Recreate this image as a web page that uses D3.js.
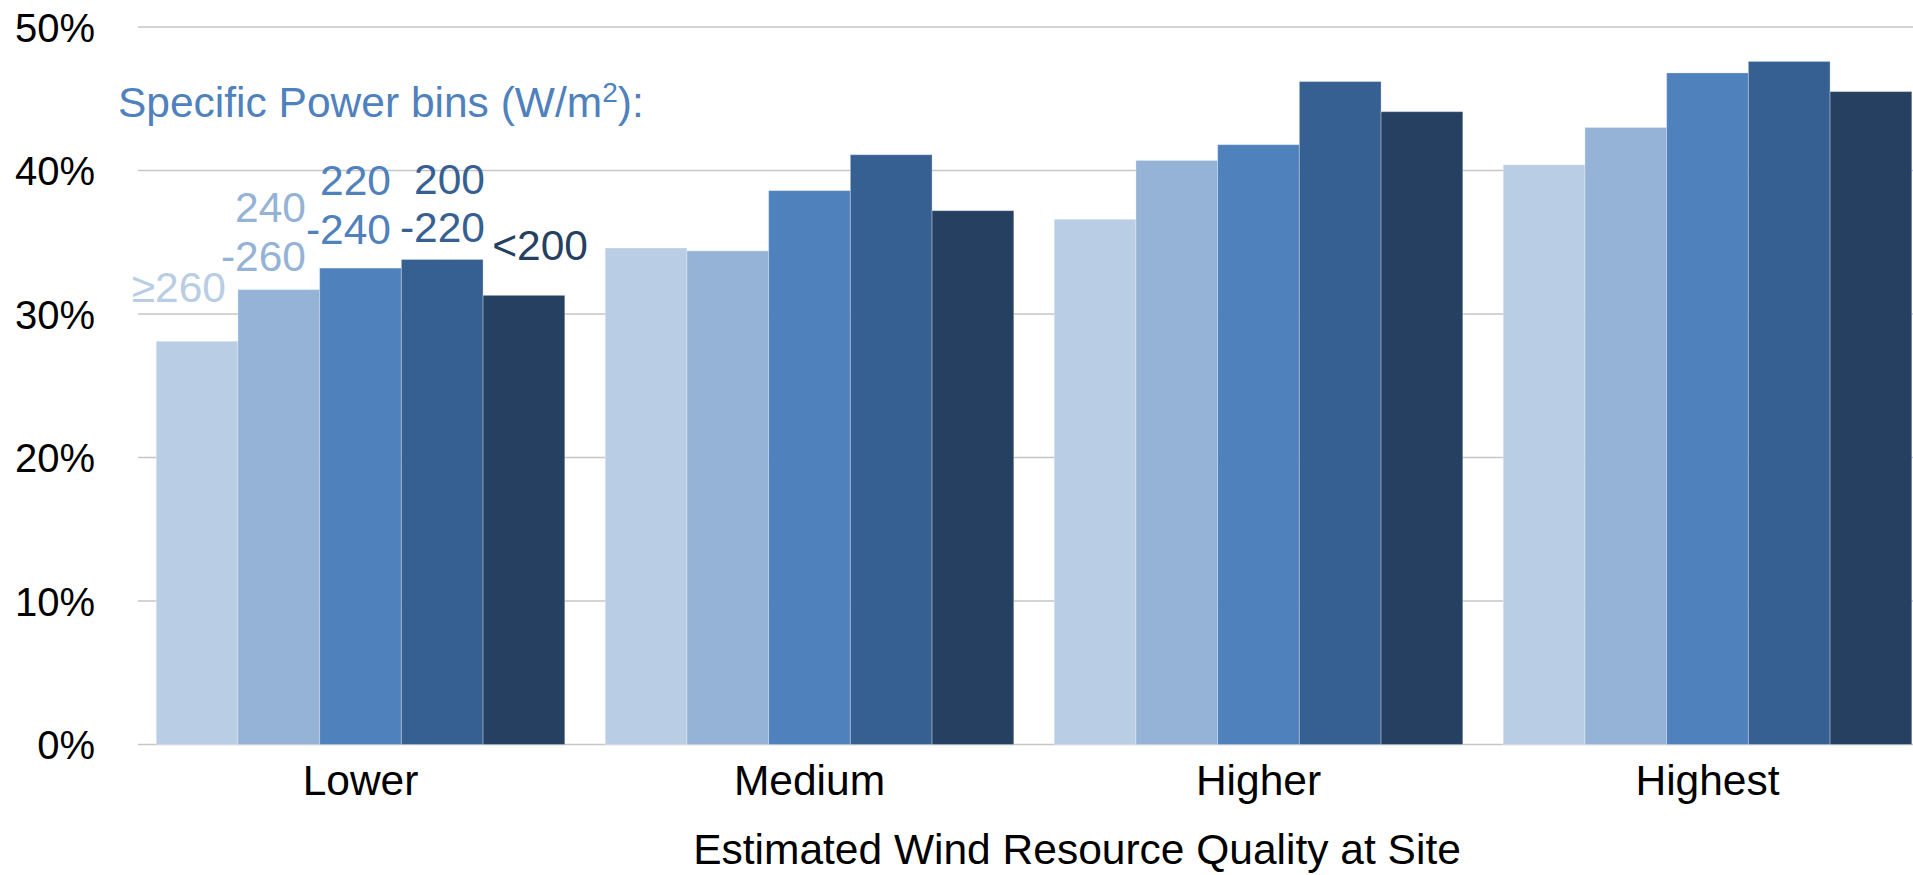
<!DOCTYPE html>
<html>
<head>
<meta charset="utf-8">
<script src="https://cdn.jsdelivr.net/npm/d3@7"></script>
<style>
  html, body { margin: 0; padding: 0; background: #fff; overflow: hidden; }
  svg { display: block; font-family: "Liberation Sans", Arial, sans-serif; }
</style>
</head>
<body>
<svg id="chart" width="1913" height="875"></svg>
<script>
// ---- data ----
const categories = ["Lower", "Medium", "Higher", "Highest"];
const seriesNames = ["≥260", "240-260", "220-240", "200-220", "<200"];
const s260plus = [28.1, 34.6, 36.6, 40.4];
const s240_260 = [31.7, 34.4, 40.7, 43.0];
const s220_240 = [33.2, 38.6, 41.8, 46.8];
const s200_220 = [33.8, 41.1, 46.2, 47.6];
const sBelow200 = [31.3, 37.2, 44.1, 45.5];
const seriesValues = [s260plus, s240_260, s220_240, s200_220, sBelow200];
const yTicks = [0, 10, 20, 30, 40, 50];
const colors = ["#B9CDE5", "#95B3D7", "#4F81BD", "#376092", "#254061"];

(function () {
// ---- layout ----
const svg = d3.select("#chart");
const pLeft = 136, pRight = 1932, pTop = 27, pBottom = 744.5;
const gridLeft = 138;
const fs = 42.5;

const x0 = d3.scaleBand().domain(categories).range([pLeft, pRight])
  .paddingInner(0.09).paddingOuter(0.045);
const x1 = d3.scaleBand().domain(d3.range(seriesNames.length))
  .range([0, x0.bandwidth()]).padding(0);
const y = d3.scaleLinear().domain([0, 50]).range([pBottom, pTop]);

// gridlines
svg.append("g").selectAll("line").data(yTicks).join("line")
  .attr("x1", gridLeft).attr("x2", 1913)
  .attr("y1", d => y(d)).attr("y2", d => y(d))
  .attr("stroke", "#C6C6C6").attr("stroke-width", 1.6);

// y labels
const yAxis = d3.axisLeft(y).tickValues(yTicks).tickFormat(d => d + "%").tickSize(0).tickPadding(0);
const ya = svg.append("g").attr("transform", `translate(${95},0)`).call(yAxis);
ya.select(".domain").remove();
ya.selectAll("text").attr("font-size", 40).attr("fill", "#000")
  .attr("font-family", "Liberation Sans, Arial, sans-serif").attr("dy", "0.36em");

// bars
const groups = svg.append("g").selectAll("g").data(categories).join("g")
  .attr("transform", d => `translate(${x0(d)},0)`);
groups.selectAll("rect")
  .data((c, ci) => seriesValues.map((s, si) => ({ si, v: s[ci] })))
  .join("rect")
  .attr("x", d => x1(d.si))
  .attr("width", x1.bandwidth())
  .attr("y", d => y(d.v))
  .attr("height", d => y(0) - y(d.v))
  .attr("fill", d => colors[d.si])
  .attr("stroke", "rgba(255,255,255,0.3)")
  .attr("stroke-width", 1);

// x labels
const xAxis = d3.axisBottom(x0).tickSize(0).tickPadding(0);
const xa = svg.append("g").attr("transform", `translate(0,${pBottom})`).call(xAxis);
xa.select(".domain").remove();
xa.selectAll("text").attr("font-size", fs).attr("fill", "#000")
  .attr("font-family", "Liberation Sans, Arial, sans-serif")
  .attr("dy", null).attr("y", 50);

// axis title
svg.append("text").attr("x", 1077).attr("y", 864).attr("text-anchor", "middle")
  .attr("font-size", fs).attr("fill", "#000")
  .text("Estimated Wind Resource Quality at Site");

// legend title
const lt = svg.append("text").attr("x", 118).attr("y", 117)
  .attr("font-size", fs).attr("fill", "#4F81BD");
lt.append("tspan").text("Specific Power bins (W/m");
lt.append("tspan").attr("font-size", 28).attr("dy", -15).text("2");
lt.append("tspan").attr("dy", 15).text("):");

// series labels above the Lower group
const labelLines = [["≥260"], ["240", "-260"], ["220", "-240"], ["200", "-220"], ["<200"]];
const labelRight = [226, 306, 391, 485, 588];
const labelBase = [302, 222, 195, 193.5, 259.5];
labelLines.forEach((lines, i) => {
  const t = svg.append("text").attr("text-anchor", "end")
    .attr("font-size", fs).attr("fill", colors[i]);
  lines.forEach((ln, k) => {
    t.append("tspan").attr("x", labelRight[i]).attr("y", labelBase[i] + k * 48.5).text(ln);
  });
});
})();
</script>
</body>
</html>
